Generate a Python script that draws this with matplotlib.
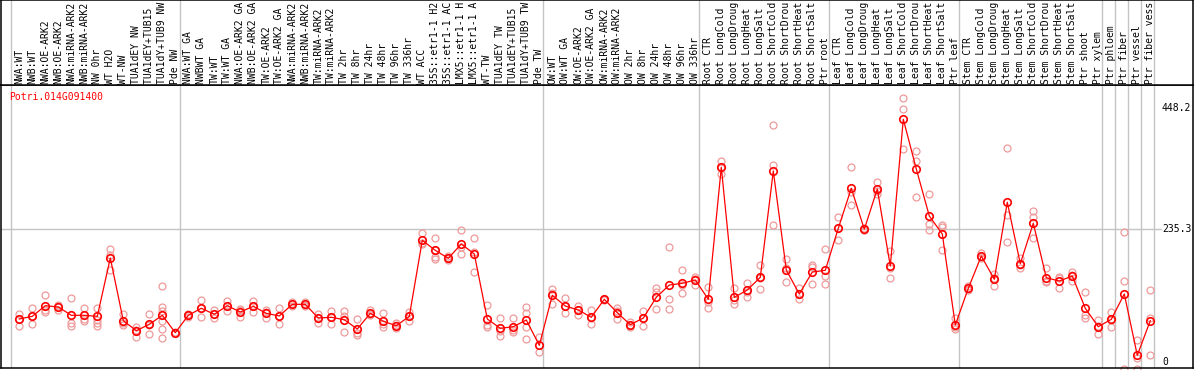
import matplotlib
matplotlib.use("Agg")
import matplotlib.pyplot as plt
import matplotlib.transforms as mtransforms

gene_id = "Potri.014G091400"

labels = [
    "NWA:WT", "NWB:WT", "NWA:OE-ARK2", "NWB:OE-ARK2", "NWA:miRNA-ARK2", "NWB:miRNA-ARK2",
    "NW 0hr", "WT H2O", "WT-NW", "TUA1dEY NW", "TUA1dEY+TUB15 NW", "TUA1dY+TUB9 NW", "Pde NW",
    "NWA:WT GA", "NWBWT GA", "TW:WT", "TW:WT GA", "NWA:OE-ARK2 GA", "NWB:OE-ARK2 GA",
    "TW:OE-ARK2", "TW:OE-ARK2 GA", "NWA:miRNA-ARK2 GA", "NWB:miRNA-ARK2 GA", "TW:miRNA-ARK2",
    "TW:miRNA-ARK2 GA", "TW 2hr", "TW 8hr", "TW 24hr", "TW 48hr", "TW 96hr", "TW 336hr",
    "WT ACC", "35S::etr1-1 H2O", "35S::etr1-1 ACC", "LMX5::etr1-1 H2O", "LMX5::etr1-1 ACC",
    "WT-TW", "TUA1dEY TW", "TUA1dEY+TUB15 TW", "TUA1dY+TUB9 TW", "Pde TW",
    "OW:WT", "OW:WT GA", "OW:OE-ARK2", "OW:OE-ARK2 GA", "OW:miRNA-ARK2", "OW:miRNA-ARK2 GA",
    "OW 2hr", "OW 8hr", "OW 24hr", "OW 48hr", "OW 96hr", "OW 336hr",
    "Root CTR", "Root LongCold", "Root LongDrought", "Root LongHeat", "Root LongSalt",
    "Root ShortCold", "Root ShortDrought", "Root ShortHeat", "Root ShortSalt", "Ptr root",
    "Leaf CTR", "Leaf LongCold", "Leaf LongDrought", "Leaf LongHeat", "Leaf LongSalt",
    "Leaf ShortCold", "Leaf ShortDrought", "Leaf ShortHeat", "Leaf ShortSalt", "Ptr leaf",
    "Stem CTR", "Stem LongCold", "Stem LongDrought", "Stem LongHeat", "Stem LongSalt",
    "Stem ShortCold", "Stem ShortDrought", "Stem ShortHeat", "Stem ShortSalt", "Ptr shoot",
    "Ptr xylem", "Ptr phloem", "Ptr fiber", "Ptr vessel", "Ptr fiber vessel",
]
label_max_chars = 14

# group boundaries (column index where a new group starts)
group_starts = [0, 13, 41, 53, 63, 73, 84, 85, 86, 87, 88]

mean_values = [
    76.0, 80.7, 99.5, 97.2, 82.5, 82.5, 80.7, 183.7, 73.0, 55.3, 66.6, 82.5, 51.8,
    82.5, 94.9, 84.3, 99.5, 88.3, 98.4, 86.0, 81.3, 101.9, 101.9, 77.7, 79.0, 74.7,
    58.3, 86.0, 71.9, 64.1, 80.7, 215.0, 197.3, 183.2, 208.5, 190.8, 76.0, 59.5, 62.4,
    74.2, 29.5,
    117.8, 98.9, 91.9, 79.0, 110.8, 87.1, 65.9, 77.7, 114.3, 136.0, 139.0, 144.9,
    110.8, 344.0, 114.3, 127.2, 149.6, 337.5, 162.5, 120.1, 159.0, 162.0,
    236.2, 306.9, 234.5, 305.7, 169.6, 428.8, 341.0, 258.0, 226.1, 65.4,
    130.2, 187.3, 146.1, 282.2, 173.7, 245.1, 148.9, 143.1, 151.9, 94.9, 62.4,
    75.4, 120.1, 11.8, 73.0,
]

replicate_values = [
    [84.8, 76.0, 63.6], [94.9, 80.7, 67.7], [117.8, 91.9, 88.9], [98.9, 91.9, 100.7],
    [112.5, 69.4, 63.6], [94.9, 72.4, 76.0], [94.9, 74.2, 63.6, 69.4], [199.1, 189.0, 162.5],
    [84.8, 68.4, 65.4], [62.4, 44.7, 56.5], [84.3, 48.9, 65.4],
    [133.7, 96.6, 90.6, 71.9, 57.8, 41.9], [51.8, 51.0, 53.0],
    [83.0, 80.0, 85.0], [109.5, 79.0, 95.0], [91.9, 77.7, 84.8], [108.3, 90.6, 99.0],
    [93.6, 80.0, 91.0], [108.3, 88.9, 99.0], [91.9, 77.7, 88.3], [94.9, 66.6, 81.3],
    [106.0, 99.0, 102.5], [106.5, 100.7, 99.0], [84.8, 69.4, 78.0], [90.6, 67.7, 79.5],
    [90.1, 52.5, 80.7], [75.4, 47.7, 51.2], [91.9, 83.0, 84.8], [86.0, 62.4, 67.1],
    [68.4, 59.5, 64.5], [88.3, 73.0, 81.3], [227.9, 208.5, 210.2],
    [219.6, 186.0, 182.5, 198.0], [187.3, 180.2, 182.9], [232.7, 190.3, 203.2],
    [218.6, 194.9, 158.5], [100.2, 64.8, 62.4], [77.2, 45.9, 54.8], [77.2, 53.5, 56.5],
    [96.6, 87.1, 61.3, 40.1], [43.6, 18.2],
    [128.4, 101.9, 121.9], [112.5, 86.0, 98.9], [99.5, 83.0, 91.9], [91.9, 66.6, 78.6],
    [110.8, 111.0, 110.0], [94.9, 75.4, 90.0], [71.2, 61.3, 65.4], [90.1, 63.6, 78.6],
    [130.7, 124.2, 93.1], [202.7, 110.8, 93.1], [162.0, 121.4, 136.0], [150.7, 136.0, 147.5],
    [132.0, 94.9, 106.0], [355.1, 332.2, 342.8], [130.2, 101.9, 109.5], [140.1, 115.4, 123.7],
    [171.4, 128.4, 148.4], [418.7, 348.0, 241.5], [181.4, 140.8, 166.0], [130.2, 110.8, 120.0],
    [171.4, 137.3, 168.0], [199.1, 151.9, 137.3],
    [256.2, 215.5, 236.7], [344.0, 276.9, 300.4], [236.2, 233.2, 234.0], [318.0, 296.8, 302.1],
    [196.1, 147.9, 166.0], [465.9, 447.0, 375.8], [372.8, 355.1, 291.0], [296.3, 243.3, 233.2],
    [242.0, 239.4, 197.9], [77.2, 57.8, 61.8],
    [134.3, 127.2, 129.0], [193.1, 183.7, 185.5], [155.0, 134.3, 148.4], [377.6, 259.7, 211.5],
    [165.5, 183.7, 171.4], [266.8, 255.7, 219.6], [165.5, 140.8, 143.1], [149.6, 130.2, 148.4],
    [159.5, 143.1, 153.7], [123.7, 77.2, 83.0], [74.2, 48.9, 63.6],
    [88.3, 61.3, 74.2], [229.2, 143.1, -12.4], [38.9, -12.4, 7.0], [126.7, 78.3, 12.4],
]

y_ticks = [448.2, 235.3, 0]

# ---------------- figure ----------------
W, H = 1194, 370
fig = plt.figure(figsize=(W / 100, H / 100), dpi=100)
fig.patch.set_facecolor("white")

mono = "DejaVu Sans Mono"
fs = 7.0
grey = "#c4c4c4"
pink = "#ee9a9a"

x_lim = (-1.408, 90.285)
y_lim = (-10.6, 489.4)

def fig_rect(px_left, px_top, px_right, px_bottom):
    return [px_left / W, (H - px_bottom) / H, (px_right - px_left) / W, (px_bottom - px_top) / H]

ax = fig.add_axes(fig_rect(1, 85, 1193, 368))
axl = fig.add_axes(fig_rect(1, 0, 1193, 85))

for a in (ax, axl):
    a.set_xlim(*x_lim)
    a.set_xticks([])
    a.set_yticks([])
    for s in a.spines.values():
        s.set_color("black")
        s.set_linewidth(1.1)
ax.set_ylim(*y_lim)
axl.set_ylim(0, 1)

# group separators
offset = 0.677
for g in group_starts:
    ax.axvline(g - offset, color=grey, lw=1.0, zorder=1)
    axl.axvline(g - offset, color=grey, lw=1.0, zorder=1)

# horizontal grid line
ax.axhline(y_ticks[1], xmin=0, xmax=(1161 - 1) / 1192, color=grey, lw=1.0, zorder=1)

xs = list(range(len(labels)))

# replicates
rx, ry = [], []
for i, reps in enumerate(replicate_values):
    for v in reps:
        rx.append(i)
        ry.append(v)
ax.plot(rx, ry, linestyle="none", marker="o", markersize=5.0, mfc="none",
        mec=pink, mew=0.9, zorder=2, clip_on=False)

# mean line
ax.plot(xs, mean_values, color="red", lw=0.9, zorder=3,
        marker="o", markersize=5.4, mfc="none", mec="red", mew=1.2)

# right-side value labels
trans = mtransforms.blended_transform_factory(ax.transAxes, ax.transData)
for t in y_ticks:
    ax.text((1162 - 1) / 1192, t, f"{t:g}", transform=trans,
            fontsize=fs, family=mono, ha="left", va="center", color="black",
            clip_on=False, zorder=4)

# gene id
ax.text((9 - 1) / 1192, 1 - (97 - 85) / 283, gene_id, transform=ax.transAxes,
        fontsize=fs, family=mono, color="red", ha="left", va="center")

# column labels (rotated), shortened to the visible width of the label band
for i, lab in enumerate(labels):
    axl.text(i, (85 - 83.5) / 85, lab[:label_max_chars], rotation=90, ha="center",
             va="bottom", fontsize=fs, family=mono, color="black", zorder=3)

fig.savefig("out.png", dpi=100)
